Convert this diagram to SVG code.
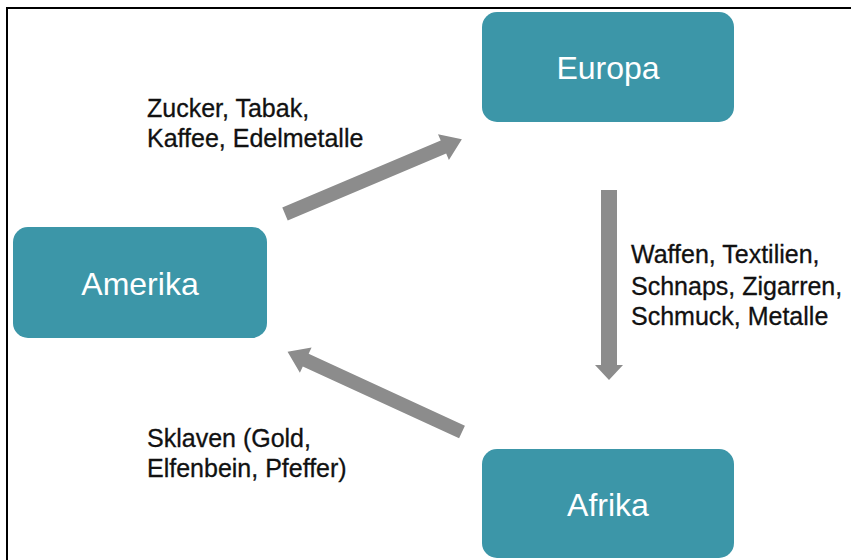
<svg xmlns="http://www.w3.org/2000/svg" width="851" height="560" viewBox="0 0 851 560">
  <style>
    .box { fill: #3c96a8; }
    .name { font-family: "Liberation Sans", Arial, sans-serif; font-size: 32px; fill: #ffffff; text-anchor: middle; }
    .goods { font-family: "Liberation Sans", Arial, sans-serif; font-size: 25px; fill: #111111; stroke: #111111; stroke-width: 0.3; }
    .flow { fill: #8c8c8c; }
  </style>
  <rect x="0" y="0" width="851" height="560" fill="#ffffff"/>
  <rect x="7" y="8" width="860" height="570" fill="none" stroke="#000000" stroke-width="2"/>

  <g id="connectors">
    <!-- Amerika to Europa -->
    <polygon class="flow" transform="translate(285,214) rotate(-22.9)" points="0,-7 172,-7 172,-14 192,0 172,14 172,7 0,7"/>
    <!-- Europa to Afrika -->
    <polygon class="flow" points="601,190 617,190 617,365 623,365 609,380 595,365 601,365"/>
    <!-- Afrika to Amerika -->
    <polygon class="flow" transform="translate(462,432) rotate(-155.3)" points="0,-7 172,-7 172,-14 192,0 172,14 172,7 0,7"/>
    <text class="goods" x="147" y="117">Zucker, Tabak,</text>
    <text class="goods" x="147" y="147">Kaffee, Edelmetalle</text>
    <text class="goods" x="631" y="263">Waffen, Textilien,</text>
    <text class="goods" x="631" y="295">Schnaps, Zigarren,</text>
    <text class="goods" x="631" y="325">Schmuck, Metalle</text>
    <text class="goods" x="147" y="447">Sklaven (Gold,</text>
    <text class="goods" x="147" y="477">Elfenbein, Pfeffer)</text>
  </g>

  <g id="europa">
    <rect class="box" x="482" y="12" width="252" height="110" rx="15"/>
    <text class="name" x="608" y="79">Europa</text>
  </g>
  <g id="amerika">
    <rect class="box" x="13" y="227" width="254" height="111" rx="15"/>
    <text class="name" x="140" y="295">Amerika</text>
  </g>
  <g id="afrika">
    <rect class="box" x="482" y="449" width="252" height="109" rx="15"/>
    <text class="name" x="608" y="516">Afrika</text>
  </g>
</svg>
